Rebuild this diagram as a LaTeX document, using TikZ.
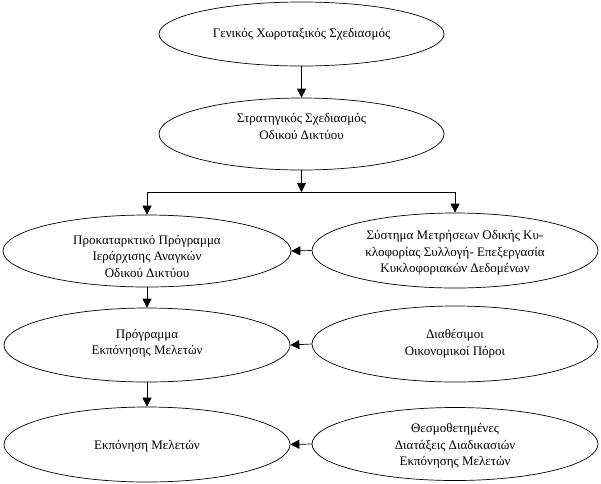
\documentclass[tikz,border=0pt]{standalone}
\usepackage{fontspec}
\setmainfont{Liberation Serif}
\usetikzlibrary{shapes.geometric,arrows.meta}
\begin{document}
\begin{tikzpicture}[x=1pt,y=-1pt,
  ell/.style={draw,ellipse,line width=0.7pt,inner sep=0pt},
  txt/.style={align=center,font=\fontsize{13}{16.5}\selectfont,inner sep=0pt},
  conn/.style={line width=0.7pt,-{Triangle[length=9pt,width=9pt]}},
  bar/.style={line width=0.7pt}]
\useasboundingbox (0,0) rectangle (601,483);
\node[ell,minimum width=285pt,minimum height=64pt,
  label={[txt]center:Γενικός Χωροταξικός Σχεδιασμός}] (E1) at (301.5,34) {};
\node[ell,minimum width=285pt,minimum height=72pt,
  label={[txt,yshift=7.5pt]center:Στρατηγικός Σχεδιασμός\\Οδικού Δικτύου}] (E2) at (301.5,134) {};
\node[ell,minimum width=288pt,minimum height=72pt,
  label={[txt,yshift=-5pt]center:Προκαταρκτικό Πρόγραμμα\\Ιεράρχισης Αναγκών\\Οδικού Δικτύου}] (E3) at (147,251) {};
\node[ell,minimum width=286pt,minimum height=75pt,
  label={[txt,yshift=-2.5pt]center:Σύστημα Μετρήσεων Οδικής Κυ-\\κλοφορίας Συλλογή- Επεξεργασία\\Κυκλοφοριακών Δεδομένων}] (E4) at (455,250.5) {};
\node[ell,minimum width=286pt,minimum height=74pt,
  label={[txt,yshift=1.5pt]center:Πρόγραμμα\\Εκπόνησης Μελετών}] (E5) at (147,345) {};
\node[ell,minimum width=286pt,minimum height=76pt,
  label={[txt]center:Διαθέσιμοι\\Οικονομικοί Πόροι}] (E6) at (455,344) {};
\node[ell,minimum width=286pt,minimum height=75pt,
  label={[txt,yshift=-1.5pt]center:Εκπόνηση Μελετών}] (E7) at (147,444.5) {};
\node[ell,minimum width=286pt,minimum height=73pt,
  label={[txt,yshift=-2pt]center:Θεσμοθετημένες\\Διατάξεις Διαδικασιών\\Εκπόνησης Μελετών}] (E8) at (455,444) {};
\coordinate (J) at (301.5,192);
\coordinate (JL) at (147,192);
\coordinate (JR) at (455,192);
\draw[conn] (E1) -- (E2);
\draw[conn] (E2) -- (J);
\draw[bar] (JL) -- (JR);
\draw[conn] (JL) -- (E3);
\draw[conn] (JR) -- (E4);
\draw[conn] (E4.west) -- (E3.east);
\draw[conn] (E3) -- (E5);
\draw[conn] (E6.west) -- (E5.east);
\draw[conn] (E5) -- (E7);
\draw[conn] (E8.west) -- (E7.east);
\end{tikzpicture}
\end{document}
